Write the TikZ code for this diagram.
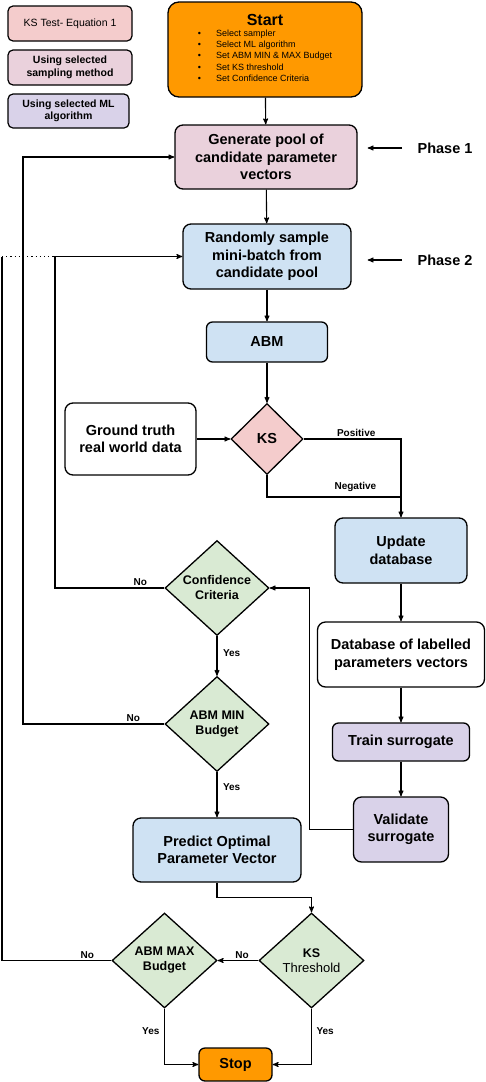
\documentclass[tikz,border=0pt]{standalone}
\usepackage{fontspec}
\setmainfont{Liberation Sans}
\usetikzlibrary{shapes}
\usetikzlibrary{arrows}
\definecolor{orangeS}{HTML}{FF9900}
\definecolor{pinkS}{HTML}{F4CCCC}
\definecolor{mauveS}{HTML}{EAD1DC}
\definecolor{lilacS}{HTML}{D9D2E9}
\definecolor{blueS}{HTML}{CFE2F3}
\definecolor{greenS}{HTML}{D9EAD3}
\tikzset{
	blk/.style = {draw=black, line width=1.3pt, rounded corners=8pt,
		align=center, inner sep=0pt,
		font=\bfseries\fontsize{14.5}{17.5}\selectfont},% bloc de base
	blk_o/.style = {blk, fill=orangeS},% debut, fin
	blk_m/.style = {blk, fill=mauveS},% echantillonnage
	blk_p/.style = {blk, fill=lilacS},% apprentissage
	blk_b/.style = {blk, fill=blueS},% etapes
	blk_w/.style = {blk, fill=white},% donnees
	leg/.style = {draw=black, line width=1.2pt, rounded corners=5pt,
		align=center, inner sep=0pt,
		font=\bfseries\fontsize{10.5}{12.5}\selectfont},% legende
	dia/.style = {diamond, draw=black, line width=1.3pt, fill=greenS,
		shape aspect=1.1, inner sep=0pt, align=center,
		minimum width=104, minimum height=95,
		font=\bfseries\fontsize{12.5}{15}\selectfont},% decision
	lbl/.style = {font=\bfseries\fontsize{10}{12}\selectfont, inner sep=1.5pt},% oui, non
	phase/.style = {font=\bfseries\fontsize{14.5}{17}\selectfont, inner sep=0pt}% phases
}

\begin{document}
\begin{tikzpicture}[->,>=stealth',x=1pt,y=-1pt,line width=1.1pt]
	\useasboundingbox (0,0) rectangle (486,1082);
	% legende
	\node[leg, fill=pinkS, minimum width=124, minimum height=35,
		font=\fontsize{10.5}{12.5}\selectfont] (leg1) at (70,23.5) {KS Test- Equation 1};
	\node[leg, fill=mauveS, minimum width=124, minimum height=35] (leg2) at (70,67.5)
		{Using selected\\sampling method};
	\node[leg, fill=lilacS, minimum width=121, minimum height=34] (leg3) at (68.5,111)
		{Using selected ML\\algorithm};
	% blocs
	\node[blk_o, minimum width=194, minimum height=95, rounded corners=11pt] (start) at (265,49.5)
		{{\fontsize{16}{19}\selectfont Start}\\[2pt]
		{\fontsize{9}{11.3}\selectfont\mdseries
		\begin{tabular}{@{}l@{\hspace{15pt}}l@{}}
			\textbullet & Select sampler\\
			\textbullet & Select ML algorithm\\
			\textbullet & Set ABM MIN \& MAX Budget\\
			\textbullet & Set KS threshold\\
			\textbullet & Set Confidence Criteria
		\end{tabular}}};
	\node[blk_m, minimum width=182, minimum height=64] (gen) at (266,157)
		{Generate pool of\\candidate parameter\\vectors};
	\node[blk_b, minimum width=168, minimum height=65] (rand) at (267,256.5)
		{Randomly sample\\mini-batch from\\candidate pool};
	\node[blk_b, minimum width=121, minimum height=40, rounded corners=6pt] (abm) at (267,342) {ABM};
	\node[dia, fill=pinkS, minimum width=72, minimum height=71,
		font=\bfseries\fontsize{14.5}{17}\selectfont] (ks) at (267,439) {KS};
	\node[blk_w, minimum width=131, minimum height=72] (ground) at (130.5,439)
		{Ground truth\\real world data};
	\node[blk_b, minimum width=132, minimum height=65] (upd) at (401,550.5) {Update\\database};
	\node[blk_w, minimum width=167, minimum height=65] (db) at (401,654.5)
		{Database of labelled\\parameters vectors};
	\node[blk_p, minimum width=137, minimum height=38, rounded corners=6pt] (train) at (401,742)
		{Train surrogate};
	\node[blk_p, minimum width=95, minimum height=65] (valid) at (401,829.5) {Validate\\surrogate};
	\node[dia] (conf) at (217,588) {Confidence\\Criteria};
	\node[dia] (bmin) at (217,724) {ABM MIN\\Budget};
	\node[blk_b, minimum width=168, minimum height=64] (pred) at (217,850)
		{Predict Optimal\\Parameter Vector};
	\node[dia, minimum width=105] (ksth) at (311.5,960.5)
		{KS\\{\mdseries\fontsize{13}{15}\selectfont Threshold}};
	\node[dia, minimum width=105] (bmax) at (164.5,960.5) {ABM MAX\\Budget};
	\node[blk_o, minimum width=73, minimum height=33, rounded corners=6pt] (stop) at (235.5,1064.5) {Stop};
	\node[phase] (ph1) at (445,148) {Phase 1};
	\node[phase] (ph2) at (445,260) {Phase 2};
	% coins des boucles
	\coordinate (negj) at (401,497);
	\coordinate (lp_a) at (55,588);
	\coordinate (lp_b) at (23,724);
	\coordinate (lp_c) at (2,960.5);
	\coordinate (lp_d) at (2,256.5);
	\coordinate (lp_e) at (55,256.5);
	% liaisons
	\draw (start) -- (gen);
	\draw (gen) -- (rand);
	\draw (rand) -- (abm);
	\draw (abm) -- (ks);
	\draw (ground) -- (ks);
	\draw (ks.east) -| node[lbl, above, pos=.27] {Positive} (upd.north);
	\draw[-] (ks.south) |- node[lbl, above=3pt, pos=.83] {Negative} (negj);
	\draw (upd) -- (db);
	\draw (db) -- (train);
	\draw (train) -- (valid);
	\draw (valid.west) -- ++(-43,0) |- (conf.east);
	\draw (conf.west) -- node[lbl, above, pos=.22] {No} (lp_a) |- (rand.west);
	\draw (conf) -- node[lbl, right=4pt, pos=.43] {Yes} (bmin);
	\draw (bmin.west) -- node[lbl, above, pos=.22] {No} (lp_b) |- (gen.west);
	\draw (bmin) -- node[lbl, right=4pt, pos=.34] {Yes} (pred);
	\draw (pred.south) -- ++(0,15) -| (ksth.north);
	\draw (ksth) -- node[lbl, above, pos=.4] {No} (bmax);
	\draw[-] (bmax.west) -- node[lbl, above, pos=.22] {No} (lp_c) -- (lp_d);
	\draw[-, dash pattern=on 1.2pt off 3pt] (lp_d) -- (lp_e);
	\draw (bmax.south) |- node[lbl, left=3pt, pos=.2] {Yes} (stop.west);
	\draw (ksth.south) |- node[lbl, right=3pt, pos=.2] {Yes} (stop.east);
	\draw[shorten <=15pt] (ph1.west) -- ([xshift=10pt]gen.east |- ph1.west);
	\draw[shorten <=15pt] (ph2.west) -- ([xshift=16pt]rand.east |- ph2.west);
\end{tikzpicture}
\end{document}
